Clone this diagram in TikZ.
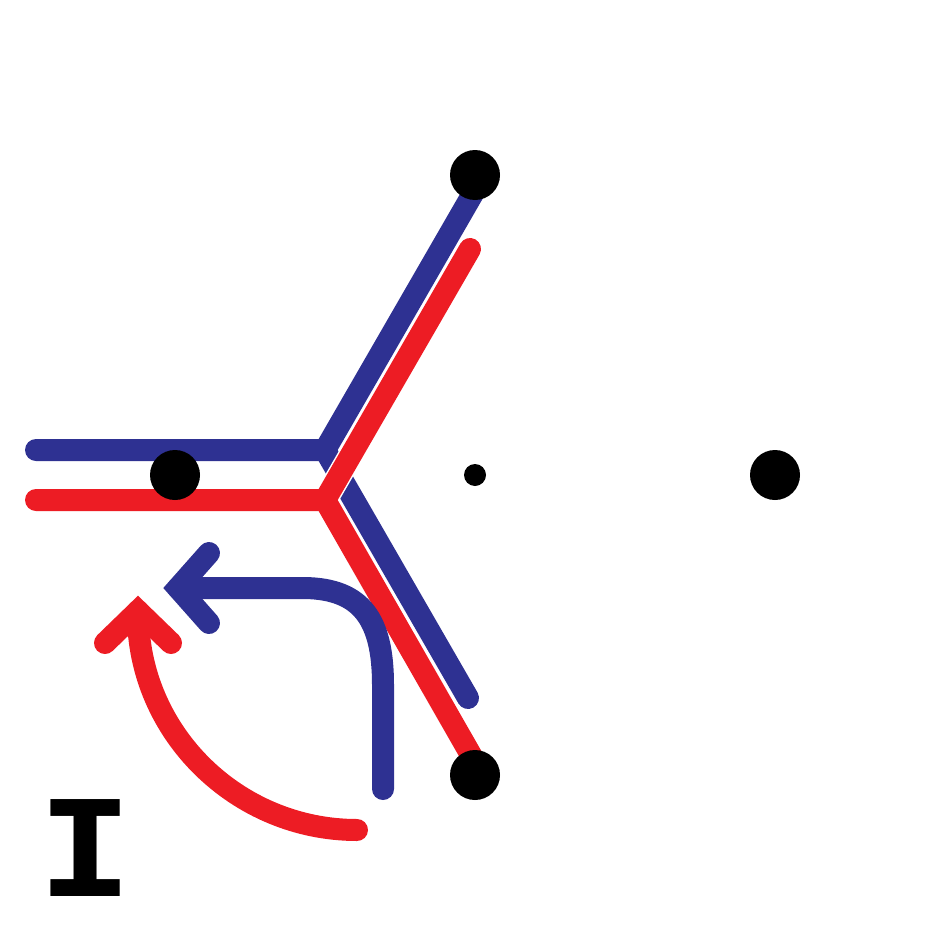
\documentclass[tikz,border=0pt]{standalone}
\usepackage{fontspec}
\newfontfamily\labelfont{DejaVu Sans Mono}
\definecolor{myblue}{HTML}{2E3192}
\definecolor{myred}{HTML}{ED1C24}
\begin{document}
\begin{tikzpicture}[x=1pt,y=-1pt,
  band/.style={line width=22pt, line cap=round, line join=round},
  gapband/.style={line width=25pt, line cap=round, line join=round, white},
  tipstyle/.style={line width=22pt, line cap=round, line join=miter},
  bigdot/.style={circle, fill=black, inner sep=0pt, minimum size=50pt},
  smalldot/.style={circle, fill=black, inner sep=0pt, minimum size=22pt}]
\useasboundingbox (0,0) rectangle (950,950);
% coordinates of the bands
\coordinate (bl) at (36,450);
\coordinate (bj) at (325,450);
\coordinate (bu) at (475,190);
\coordinate (bd) at (468,698);
\coordinate (rl) at (36,500);
\coordinate (rj) at (325,500);
\coordinate (ru) at (470,249);
\coordinate (rd) at (475,762);
% blue Y
\draw[band, myblue] (bl) -- (bj) -- (bu);
\draw[band, myblue] (bj) -- (bd);
% red Y
\draw[gapband] (rl) -- (rj) -- (ru) (rj) -- (rd);
\draw[band, myred] (rl) -- (rj) -- (ru);
\draw[band, myred] (rj) -- (rd);
% blue arrow
\coordinate (bas) at (383,789);
\coordinate (bac) at (383,685);
\coordinate (bah) at (305,588);
\coordinate (bat) at (178,588);
\coordinate (bb1) at (209,553);
\coordinate (bb2) at (209,623);
\draw[band, myblue] (bas) -- (bac) .. controls (383,620) and (362,589) .. (bah) -- (bat);
\draw[tipstyle, myblue] (bb1) -- (bat) -- (bb2);
% red arrow
\coordinate (ras) at (357,830);
\coordinate (rae) at (138,614);
\coordinate (rat) at (138,611);
\coordinate (rb1) at (105,643);
\coordinate (rb2) at (171,643);
\draw[band, myred] (ras) .. controls (237,830) and (138,733) .. (rae) -- (rat);
\draw[tipstyle, myred] (rb1) -- (rat) -- (rb2);
% dots
\node[bigdot] (top) at (475,175) {};
\node[bigdot] (left) at (175,475) {};
\node[smalldot] (center) at (475,475) {};
\node[bigdot] (right) at (775,475) {};
\node[bigdot] (bottom) at (475,775) {};
% label
\node[inner sep=0pt, font=\labelfont\bfseries\fontsize{133}{133}\selectfont] (lab) at (86,848) {\scalebox{1.2}[1]{I}};
\end{tikzpicture}
\end{document}
